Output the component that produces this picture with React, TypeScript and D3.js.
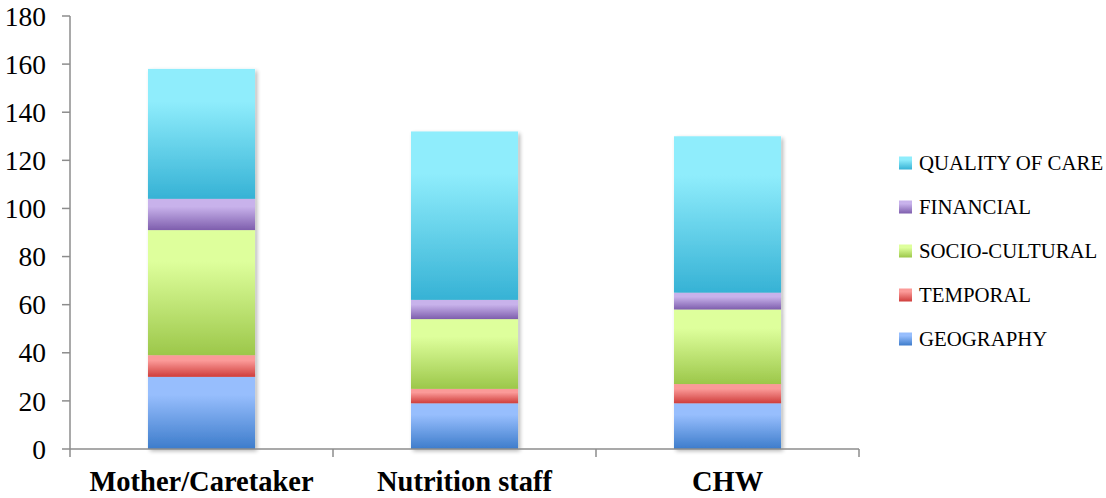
import React from 'react';
import * as d3 from 'd3';

// categories and series (stacked bottom -> top)
const categories = ['Mother/Caretaker', 'Nutrition staff', 'CHW'];
const seriesNames = ['GEOGRAPHY', 'TEMPORAL', 'SOCIO-CULTURAL', 'FINANCIAL', 'QUALITY OF CARE'];
const geography = [30, 19, 19];
const temporal = [9, 6, 8];
const socioCultural = [52, 29, 31];
const financial = [13, 8, 7];
const qualityOfCare = [54, 70, 65];
const yTicks = [0, 20, 40, 60, 80, 100, 120, 140, 160, 180];

// light (top) / dark (bottom) gradient colours per series
const gradTop = ['#97BEFD', '#FB9A98', '#DEFF9C', '#C8B2EB', '#8FEDFC'];
const gradBottom = ['#3D7CCB', '#CF3D3B', '#9CC74A', '#7E5EAD', '#36B2D5'];

const W = 1106, H = 498;
const axisColor = '#8C8C8C';

const App = () => {
  const rows = categories.map((c, i) => ({
    cat: c,
    'GEOGRAPHY': geography[i],
    'TEMPORAL': temporal[i],
    'SOCIO-CULTURAL': socioCultural[i],
    'FINANCIAL': financial[i],
    'QUALITY OF CARE': qualityOfCare[i],
  }));
  const stacked = d3.stack<any>().keys(seriesNames)(rows);

  const x = d3.scaleBand().domain(categories).range([70, 859]).padding(0);
  const y = d3.scaleLinear().domain([0, 180]).range([449, 16]);
  const barW = x.bandwidth() * 0.407;

  const tickXs = [...categories.map(c => x(c)!), x.range()[1]];

  return (
    <svg width={W} height={H} style={{ position: 'absolute', left: 0, top: 0, background: '#fff' }}
      fontFamily="'Liberation Serif', 'DejaVu Serif', serif">
      <defs>
        {seriesNames.map((s, i) => (
          <linearGradient key={s} id={`g${i}`} x1="0" y1="0" x2="0" y2="1">
            <stop offset="0" stopColor={gradTop[i]} />
            <stop offset="0.25" stopColor={gradTop[i]} />
            <stop offset="1" stopColor={gradBottom[i]} />
          </linearGradient>
        ))}
        <filter id="shadow" x="-10%" y="-5%" width="125%" height="115%">
          <feGaussianBlur in="SourceAlpha" stdDeviation="2" />
          <feOffset dx="2" dy="2" result="b" />
          <feComponentTransfer><feFuncA type="linear" slope="0.3" /></feComponentTransfer>
          <feMerge><feMergeNode /><feMergeNode in="SourceGraphic" /></feMerge>
        </filter>
      </defs>

      {/* bars */}
      {categories.map((c, ci) => (
        <g key={c} filter="url(#shadow)">
          {stacked.map((layer, si) => {
            const [y0, y1] = layer[ci];
            return (
              <rect key={si}
                x={x(c)! + (x.bandwidth() - barW) / 2}
                y={y(y1)}
                width={barW}
                height={y(y0) - y(y1)}
                fill={`url(#g${si})`} />
            );
          })}
        </g>
      ))}

      {/* y axis */}
      <line x1={70} x2={70} y1={y(180)} y2={y(0)} stroke={axisColor} strokeWidth={1.5} />
      {yTicks.map(t => (
        <g key={t}>
          <line x1={62} x2={70} y1={y(t)} y2={y(t)} stroke={axisColor} strokeWidth={1.5} />
          <text x={46} y={y(t)} dy="0.35em" textAnchor="end" fontSize={27.5} fill="#000">{t}</text>
        </g>
      ))}

      {/* x axis */}
      <line x1={70} x2={859} y1={y(0)} y2={y(0)} stroke={axisColor} strokeWidth={1.5} />
      {tickXs.map((tx, i) => (
        <line key={i} x1={tx} x2={tx} y1={y(0)} y2={y(0) + 8} stroke={axisColor} strokeWidth={1.5} />
      ))}
      {categories.map(c => (
        <text key={c} x={x(c)! + x.bandwidth() / 2} y={491} textAnchor="middle"
          fontSize={28.5} fontWeight="bold" fill="#000">{c}</text>
      ))}

      {/* legend, top to bottom reversed order */}
      {seriesNames.slice().reverse().map((s, k) => {
        const si = seriesNames.length - 1 - k;
        const cy = 163 + k * 44;
        return (
          <g key={s}>
            <rect x={899} y={cy - 6.5} width={13} height={13} fill={`url(#g${si})`} />
            <text x={919} y={cy} dy="0.35em" fontSize={20.8} fill="#000">{s}</text>
          </g>
        );
      })}
    </svg>
  );
};

export default App;
